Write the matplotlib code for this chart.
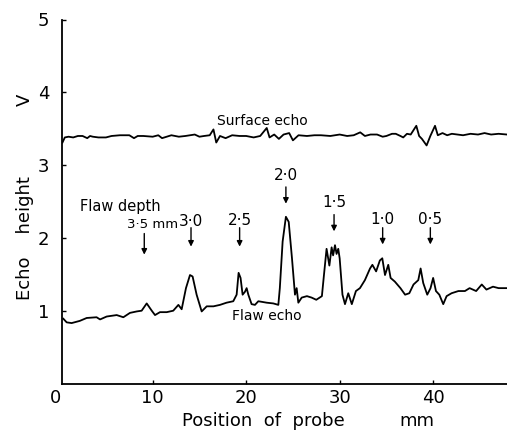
import matplotlib
matplotlib.use("Agg")
import matplotlib.pyplot as plt

# Surface echo trace (position mm, echo height V)
surface_x = [0.35, 0.6, 1.0, 1.5, 2.0, 2.5, 3.0, 3.3, 3.6, 4.2, 5.0, 5.6, 6.5, 7.5, 8.0, 8.4,
             9.0, 10.0, 10.6, 11.0, 12.0, 12.8, 13.5, 14.5, 15.0, 15.5, 16.1, 16.5, 16.8, 17.2,
             17.8, 18.5, 19.3, 20.0, 20.8, 21.5, 22.2, 22.5, 23.0, 23.5, 24.0, 24.6, 25.0,
             25.6, 26.5, 27.3, 28.0, 29.0, 30.0, 30.8, 31.5, 32.2, 32.7, 33.3, 34.0, 34.6,
             35.0, 35.6, 36.0, 36.5, 36.8, 37.2, 37.6, 38.2, 38.5, 38.8, 39.3, 39.7, 40.2,
             40.5, 41.0, 41.5, 42.0, 42.6, 43.2, 44.0, 44.8, 45.5, 46.2, 47.0, 47.9]
surface_y = [3.31, 3.38, 3.39, 3.38, 3.40, 3.40, 3.37, 3.40, 3.39, 3.38, 3.38, 3.40, 3.41,
             3.41, 3.37, 3.40, 3.40, 3.39, 3.41, 3.37, 3.41, 3.39, 3.40, 3.42, 3.39, 3.40,
             3.41, 3.49, 3.31, 3.40, 3.37, 3.41, 3.40, 3.40, 3.38, 3.40, 3.51, 3.38, 3.42,
             3.36, 3.42, 3.44, 3.34, 3.41, 3.40, 3.41, 3.41, 3.40, 3.42, 3.40, 3.41, 3.45,
             3.40, 3.42, 3.42, 3.39, 3.40, 3.43, 3.43, 3.40, 3.38, 3.43, 3.42, 3.54, 3.40,
             3.36, 3.27, 3.40, 3.54, 3.41, 3.44, 3.41, 3.43, 3.42, 3.41, 3.43, 3.42, 3.44,
             3.42, 3.43, 3.42]

# Flaw echo trace
flaw_x = [0.44, 0.8, 1.33, 2.2, 2.94, 4.0, 4.37, 5.08, 6.15, 6.86, 7.57, 8.3, 8.82, 9.36,
          9.9, 10.25, 10.78, 11.5, 12.2, 12.75, 13.1, 13.56, 13.99, 14.27, 14.7, 15.24,
          15.78, 16.5, 17.2, 17.9, 18.62, 18.98, 19.19, 19.4, 19.62, 19.87, 20.05, 20.23,
          20.58, 20.94, 21.3, 22.2, 22.9, 23.44, 23.6, 23.9, 24.25, 24.55, 24.9, 25.22,
          25.4, 25.58, 25.94, 26.5, 27.0, 27.5, 28.1, 28.32, 28.6, 28.9, 29.14, 29.3, 29.5,
          29.67, 29.85, 30.0, 30.3, 30.57, 30.92, 31.3, 31.74, 32.17, 32.7, 33.25, 33.5,
          33.9, 34.3, 34.56, 34.85, 35.2, 35.45, 35.9, 36.5, 37.0, 37.45, 37.9, 38.41,
          38.66, 38.94, 39.37, 39.72, 40.0, 40.3, 40.66, 41.08, 41.44, 41.97, 42.7, 43.4,
          43.9, 44.6, 45.2, 45.7, 46.4, 47.0, 47.9]
flaw_y = [0.89, 0.84, 0.83, 0.86, 0.90, 0.91, 0.88, 0.92, 0.94, 0.91, 0.97, 0.99, 1.00, 1.10,
          1.00, 0.94, 0.98, 0.98, 1.00, 1.08, 1.02, 1.31, 1.49, 1.47, 1.22, 0.99, 1.06, 1.06,
          1.08, 1.11, 1.13, 1.22, 1.52, 1.45, 1.22, 1.26, 1.31, 1.22, 1.09, 1.08, 1.13, 1.11,
          1.10, 1.08, 1.31, 1.95, 2.29, 2.22, 1.72, 1.22, 1.31, 1.11, 1.18, 1.20, 1.18, 1.15,
          1.20, 1.49, 1.85, 1.62, 1.87, 1.76, 1.90, 1.78, 1.85, 1.72, 1.22, 1.09, 1.24, 1.09,
          1.27, 1.31, 1.42, 1.58, 1.63, 1.54, 1.69, 1.72, 1.49, 1.63, 1.45, 1.40, 1.31, 1.22,
          1.24, 1.36, 1.42, 1.58, 1.38, 1.22, 1.31, 1.45, 1.27, 1.22, 1.09, 1.20, 1.24, 1.27,
          1.27, 1.31, 1.27, 1.36, 1.29, 1.33, 1.31, 1.31]

# Flaw depth markers
depth_labels = ["3·0", "2·5", "2·0", "1·5", "1·0", "0·5"]
arrow_x = [9.1, 14.1, 19.3, 24.25, 29.4, 34.6, 39.7]
arrow_top = [2.06, 2.14, 2.14, 2.70, 2.32, 2.14, 2.14]
arrow_bottom = [1.77, 1.88, 1.88, 2.47, 2.09, 1.91, 1.91]
label_y = [2.23, 2.24, 2.86, 2.48, 2.25, 2.25]

fig = plt.figure(figsize=(5.07, 4.32), dpi=100)
ax = fig.add_axes([62 / 507, 48.5 / 432, 445 / 507, 364 / 432])

ax.plot(surface_x, surface_y, color="black", linewidth=1.3)
ax.plot(flaw_x, flaw_y, color="black", linewidth=1.3)

for xa, y0, y1 in zip(arrow_x, arrow_top, arrow_bottom):
    ax.annotate("", xy=(xa, y1), xytext=(xa, y0),
                arrowprops=dict(arrowstyle="-|>", color="black", lw=1.0,
                                mutation_scale=8, shrinkA=0, shrinkB=0))

for xa, ly, lab in zip(arrow_x[1:], label_y, depth_labels):
    ax.text(xa, ly, lab, ha="center", va="center", fontsize=11)

ax.text(10.0, 2.18, "3·5 mm", ha="center", va="center", fontsize=9.5)
ax.text(2.2, 2.43, "Flaw depth", ha="left", va="center", fontsize=10.5)
ax.text(21.7, 3.6, "Surface echo", ha="center", va="center", fontsize=10)
ax.text(22.2, 0.93, "Flaw echo", ha="center", va="center", fontsize=10)

ax.set_xlim(0.3, 47.9)
ax.set_ylim(0, 5)
ax.set_xticks([10, 20, 30, 40])
ax.set_yticks([1, 2, 3, 4, 5])
ax.tick_params(direction="in", length=3, width=1, labelsize=13)
ax.tick_params(axis="x", pad=4)
ax.tick_params(axis="y", pad=9)
ax.annotate("0", xy=(-0.4, 0), xycoords=("data", "axes fraction"),
            xytext=(0, -4), textcoords="offset points",
            ha="center", va="top", fontsize=13, annotation_clip=False)

for side in ["top", "right"]:
    ax.spines[side].set_visible(False)
for side in ["left", "bottom"]:
    ax.spines[side].set_linewidth(1.3)

fig.text(25 / 507, 1 - 238 / 432, "Echo    height", rotation=90,
         ha="center", va="center", fontsize=13)
fig.text(25 / 507, 1 - 100 / 432, "V", rotation=90,
         ha="center", va="center", fontsize=13)
fig.text(263 / 507, 1 - 421 / 432, "Position  of  probe", ha="center", va="center", fontsize=13)
fig.text(417 / 507, 1 - 421 / 432, "mm", ha="center", va="center", fontsize=13)

fig.savefig("out.png", dpi=100)
